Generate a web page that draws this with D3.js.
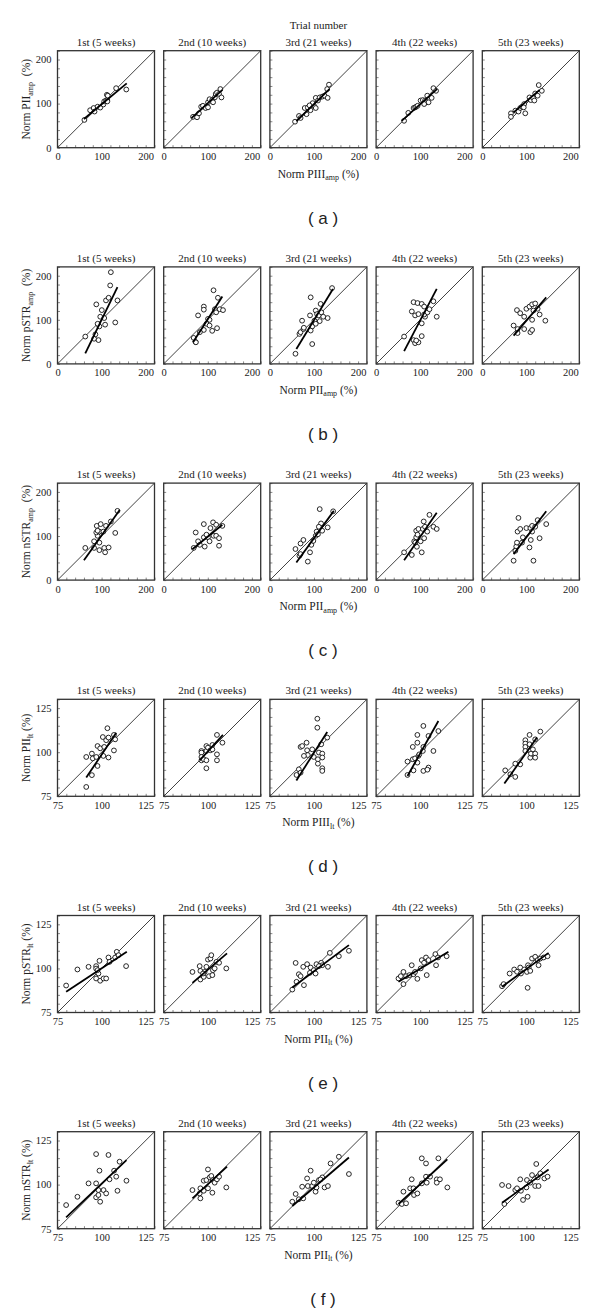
<!DOCTYPE html>
<html><head><meta charset="utf-8">
<script src="https://cdn.jsdelivr.net/npm/d3@7"></script>
<style>body{margin:0;background:#fff}svg{display:block}</style>
</head><body>
<script>
// ---------- DATA ----------
const trialTitles = ["1st (5 weeks)","2nd (10 weeks)","3rd (21 weeks)","4th (22 weeks)","5th (23 weeks)"];
const rowLetters = ["a","b","c","d","e","f"];
const ampTicks = [0,100,200];
const ltTicks = [75,100,125];
const ampDomain = [0,220];
const ltDomain = [75,130];

// row a: Norm PII_amp vs Norm PIII_amp
const rowA = [
 [[61,63],[74,85],[82,90],[84,82],[91,93],[97,91],[104,98],[106,105],[110,107],[113,108],[112,120],[114,118],[113,105],[133,135],[156,132]],
 [[66.5,70],[75.6,69],[80,78],[85,93],[89,95],[95,90],[100.5,91.5],[100.5,103],[104,110],[110,108],[116,114],[118,122],[121,125],[125.5,122],[128.5,133],[131,114],[112,103]],
 [[57,59],[66,72],[69.6,67.4],[83,76],[79,90],[86,91],[92,85],[100,95],[104,90],[104,113],[109,107],[113,114],[119,116],[124,118],[130,133],[134,143],[131,113],[97,101],[90,96]],
 [[63.5,61],[73,79],[85,90],[88.5,91.5],[91,93],[94,95],[101,107],[106,108],[111,107],[115,103],[119,103],[116,118],[126,113],[130,135],[136,129],[109,99]],
 [[65,78],[65,70],[75,84],[82,82],[86,90],[90,93],[95,99],[94,91.5],[97.5,78],[107,114],[110,108],[115,113],[118,107],[120,123],[125.5,118],[128,142],[135,129]]
];
const fitA = [[60,65,157,146],[63,67,133,131],[60,60,135,133],[58,61,138,133],[71,80,130,131]];

// row b: Norm pSTR_amp vs Norm PII_amp
const rowB = [
 [[63,62],[83,57],[86,67],[93,54],[88,135],[97,107],[95,85],[91,91],[100.5,122],[106,104],[108,89],[110,144],[116,150],[119.5,178],[121,208],[131,94],[136,144]],
 [[68,59],[72,50],[73,49],[78,110],[91,130],[91,123],[91,77],[97,91],[100.5,102],[104,100],[104,87],[110,75],[113,167],[116,124],[119,117],[121,81],[123,150],[127,124],[134.5,122],[82,72]],
 [[58,23],[67,68],[69.5,72],[76,79],[73,98],[77,82],[91,110],[92.5,151],[96,45],[96,85],[92.5,75.6],[104,121],[101,98],[107,113],[111,110],[113,97],[115,136],[116.5,117],[121,107],[131,104],[141,172],[104,91]],
 [[63.5,62],[81,119],[85,140],[94,138],[88.5,110],[96,113],[103.5,136],[109,130],[111,107],[109,112],[116.5,117],[121,124],[130,142],[137.5,107],[103.5,92],[85,54],[88.5,47],[96,49],[103.5,63],[91,53]],
 [[71,87],[78.6,122],[86,115],[95,107],[95,79],[80,79],[80,70],[100,125],[107,130],[113,135],[120,137],[125.5,125],[130,112],[143,98],[113,100],[109,72],[113,77],[116,121]]
];
const fitB = [[63,24,136,174],[66.5,49,133,153],[60,34,143,170],[63.5,29,137.5,170],[71,64,145,151]];

// row c: Norm nSTR_amp vs Norm PII_amp
const rowC = [
 [[63,73],[83,88],[83,73],[89,123],[91,100.5],[88,108],[95,110],[95,85],[95,68],[98,127],[104,110],[106,73],[108,63],[110,123],[116,74],[121,133],[131,107],[136,157],[91,112]],
 [[68,73],[72.6,108],[78,88],[82,80],[91,127],[91,97],[93,76],[100.5,97],[104,88],[106,118],[112,131],[113,100.5],[119,125.5],[119,100.5],[125.5,95],[125.5,78],[133,123],[97,103]],
 [[58,70.5],[67,55],[69.5,83],[76,91],[69.5,59],[86,42],[91,63],[94,80],[98.5,89],[104,100.5],[106,110],[109,104],[113,161],[116,128.5],[118.6,112],[131,119.5],[143.5,156],[111,121]],
 [[63.5,63],[81,57],[86.5,88],[91,112],[92.5,75.6],[91,97],[96,116],[101,88],[103.5,63],[106,116],[108,133],[109,95],[111,121],[116,110],[121,148],[130,121],[137.5,116],[94,103],[89,85]],
 [[71,44],[77,76],[78.6,85],[80,110],[82,141],[86,116],[90,85],[92,97],[100,118],[107,74],[109,118],[110,91],[113,123],[113,110],[116,44],[120,121],[125.5,136],[130,95],[145,127],[75,66.5]]
];
const fitC = [[60,45,141,159],[65,70,133,125.5],[60,40,145,157],[63.5,45,137.5,153],[71,59,145,156]];

// row d: Norm PII_lt vs Norm PIII_lt
const rowD = [
 [[91.3,80.3],[94.5,87],[91.3,97.3],[94.5,99.2],[95,96.5],[97,97.3],[97.7,92.2],[97.7,103.5],[99.2,102.2],[100.7,108.6],[101,97.9],[101.5,103],[102.6,106.8],[103.3,113.6],[103.9,108.3],[103.9,97],[107,109.8],[107,101],[107.7,107.3]],
 [[96.4,100.7],[96.4,99.8],[96.4,97.3],[96.4,95.4],[97.7,96],[99.2,100.7],[99.2,103.5],[99.2,95.4],[99.2,90.9],[100.1,102.6],[101.5,101.1],[102.6,104.1],[102.6,101.6],[105.2,109.8],[105.2,98.8],[105.2,95.4],[108.3,105.4]],
 [[90.1,87.1],[91.4,90.3],[92.4,103],[92.4,88.4],[93.3,103.5],[95.8,105.4],[96.1,101.1],[96.5,98.4],[99,101.6],[99.9,97.3],[101.9,113.9],[101.9,119],[102.2,96],[102.2,93.5],[102.8,99.8],[104.1,104.5],[104.7,99.2],[104.7,97],[104.7,90.9],[104.7,89.4],[107.5,108.3],[94.3,97.9]],
 [[92.8,87.1],[92.8,94.7],[95.8,96],[95.8,103],[96.2,89.7],[97.1,96.5],[98.4,94.1],[98.4,109.8],[98.4,105.4],[99,97.9],[99.5,98.8],[101.5,100.7],[101.8,114.9],[101.8,103],[101.8,89.4],[104.7,109.2],[104.7,91.3],[104.1,90.1],[107.5,100.7],[110.3,112]],
 [[88,89.7],[90.9,87.5],[93.7,86],[93.7,93.5],[96.5,93.1],[99.4,106.8],[99.4,104.9],[99.4,103],[99.4,100.7],[101.8,109.8],[101.8,104.5],[102.2,100.7],[102.2,96.9],[102.6,99.2],[105,107.3],[105,99.2],[105,96.9],[107.9,111.7],[103.7,101.6]]
];
const fitD = [[91.3,85.6,108.3,111],[95.4,95.4,108.6,109.8],[90,84,107.5,111.5],[92.8,86.5,110.3,117.7],[87.5,82.2,106,108.3]];

// row e: Norm pSTR_lt vs Norm PII_lt
const rowE = [
 [[79.9,90.3],[86.3,99.4],[92.6,100.9],[96.9,101.3],[96.9,99.9],[96.9,94.3],[98.2,97.1],[98.8,104.3],[99.2,93],[101.1,94.3],[102.6,94.3],[103.9,106.2],[104.5,103.7],[107.7,106.2],[108.6,109.4],[109.6,107.5],[113.9,101.3],[97.7,99]],
 [[91.3,98],[95.4,101.3],[95.8,98.6],[95.8,93.7],[97.7,95.2],[98.2,98],[99.2,100.9],[100.1,105],[100.7,95.6],[101.5,105.6],[102,107.5],[102.6,96.2],[102.9,99],[103.9,100],[104.9,103.7],[106.4,103.2],[110.5,100],[97.3,97.1]],
 [[89.6,103.1],[87.7,88],[91.4,96.7],[90.1,92.4],[92.4,95.6],[93.9,100.9],[94.3,90.5],[96.1,102.4],[97.7,97.5],[98.1,100.5],[99.9,99],[100.9,97.1],[101.4,102.4],[104.1,103.2],[104.7,101.8],[107.9,100.9],[109,108.8],[114.1,106.9],[119.8,110],[102.8,101.3]],
 [[87.7,94.3],[89,95.6],[90.5,98],[90.5,91.1],[92,95.6],[93.9,96.2],[95.2,101.8],[96.2,96.7],[97.1,98],[98.4,94.1],[100.3,100],[100.9,104.7],[102.2,103.2],[103.3,106.2],[103.7,96.2],[104.7,104.7],[108.6,108.1],[109,101.8],[110.1,106.2],[115,106.9]],
 [[86.2,89.9],[87.1,91.1],[90.5,97.1],[93.1,99.4],[94.7,98.1],[96.5,100.5],[96.9,97.1],[98.8,99.4],[100.9,101.8],[100.3,98],[100.7,89],[101.3,100.5],[103.2,105.6],[105,106.6],[106.4,104.7],[106.9,101.8],[107.9,105.6],[109.8,106.2],[112,106.9],[102.2,98.6]]
];
const fitE = [[79.9,86.7,114.3,109.4],[91.3,91.8,110.9,108.5],[87.7,89.2,119.8,113.2],[87.7,92.4,116,109.4],[86.2,89.6,112.6,108.8]];

// row f: Norm nSTR_lt vs Norm PII_lt
const rowF = [
 [[79.9,88.4],[86.3,93.1],[92.6,100.7],[96.9,117.3],[96.9,100.7],[96.9,92.8],[98.2,94.1],[98.8,107.9],[99.2,90.3],[101.1,96.9],[102.6,95],[103.9,116.8],[104.5,103],[107.1,107.9],[108.3,104.5],[109,96.5],[110.2,113],[114.1,102.2],[98.2,96.9]],
 [[91.3,96.9],[95.4,95],[95.8,97.9],[95.8,92.2],[97.7,102.2],[97.7,96.5],[99.2,102.6],[100.1,108.6],[100.1,97.9],[101.1,104.1],[102,104.9],[102.6,95.4],[102.9,102.6],[103.9,101.1],[105.2,103],[106.4,104.5],[110.5,98.4]],
 [[87.7,90.3],[89.6,94.7],[91.4,91.7],[93.3,98.8],[93.9,92.2],[96.1,103.5],[98.1,107.9],[96.5,99.2],[99,99.2],[99.9,101.1],[100.9,96],[101.4,98.4],[102.8,102.6],[104.7,104.1],[106,98.4],[107.9,99.2],[109.4,112],[114.1,115.8],[119.8,106],[103.7,102.9]],
 [[87.7,89.7],[89.6,89],[92,89.4],[90.5,96],[94.3,97.9],[95.2,103],[96.2,97.9],[96.5,94.1],[98.4,95],[100.9,100.7],[100.9,114.9],[103.3,112],[103.3,104.5],[103.7,101.1],[105.6,104.5],[109.4,103],[109.4,101.1],[110.3,114.9],[111.2,103],[115.4,98.4]],
 [[86.2,99.8],[87.5,89],[89.9,99.2],[93.7,96.9],[94.7,97.9],[96.5,103],[96.9,96.5],[98.1,91.3],[100,98.4],[100.3,102.6],[100.7,93.1],[102.2,101.1],[103.2,105.4],[105,99.2],[105.6,111.7],[106.4,104.1],[106.9,99.2],[107.9,106.4],[110.2,103.5],[112,104.5]]
];
const fitF = [[79.9,81.4,114.1,113.9],[91.3,92.2,110.9,110.2],[87.7,87.9,119.8,115.4],[87.7,89,115.4,114.3],[86.2,89.7,112.6,108.6]];

const yLabels = [["PII","amp"],["pSTR","amp"],["nSTR","amp"],["PII","lt"],["pSTR","lt"],["nSTR","lt"]];
const xLabels = [["PIII","amp"],["PII","amp"],["PII","amp"],["PIII","lt"],["PII","lt"],["PII","lt"]];

// ---------- DRAW ----------
const W=600,H=1314;
const svg=d3.select("body").append("svg").attr("width",W).attr("height",H);
const serif="'Liberation Serif','Times New Roman',serif";
const sans="'Liberation Sans',Arial,sans-serif";
const size=97, x0=57.5, dx=106.2, y0=50.7, dy=216.2;

const rows=[rowA,rowB,rowC,rowD,rowE,rowF];
const fits=[fitA,fitB,fitC,fitD,fitE,fitF];

svg.append("text").attr("x",x0+2*dx+size/2).attr("y",29).attr("text-anchor","middle")
  .attr("font-family",serif).attr("font-size",11).attr("fill","#222").text("Trial number");

rows.forEach((panels,r)=>{
  const amp = r<3;
  const dom = amp?ampDomain:ltDomain;
  const ticks = amp?ampTicks:ltTicks;
  const minor = amp?d3.range(0,221,20):d3.range(75,131,5);
  const top = y0 + r*dy;
  panels.forEach((pts,c)=>{
    const left = x0 + c*dx;
    const xs=d3.scaleLinear().domain(dom).range([left,left+size]);
    const ys=d3.scaleLinear().domain(dom).range([top+size,top]);
    const g=svg.append("g");
    // title
    g.append("text").attr("x",left+size/2).attr("y",top-5).attr("text-anchor","middle")
      .attr("font-family",serif).attr("font-size",11).attr("fill","#222").text(trialTitles[c]);
    // minor ticks (inward)
    const xa=d3.axisBottom(xs).tickValues(minor).tickSize(-2.5).tickFormat("");
    const ya=d3.axisLeft(ys).tickValues(minor).tickSize(-2.5).tickFormat("");
    g.append("g").attr("transform",`translate(0,${top+size})`).call(xa)
      .call(s=>{s.select(".domain").remove();s.selectAll("line").attr("stroke","#555").attr("stroke-width",0.7);});
    g.append("g").attr("transform",`translate(${left},0)`).call(ya)
      .call(s=>{s.select(".domain").remove();s.selectAll("line").attr("stroke","#555").attr("stroke-width",0.7);});
    // tick labels
    const xl=d3.axisBottom(xs).tickValues(ticks).tickSize(0).tickPadding(5).tickFormat(d3.format("d"));
    g.append("g").attr("transform",`translate(0,${top+size})`).call(xl)
      .call(s=>{s.select(".domain").remove();s.selectAll("text").attr("font-family",serif).attr("font-size",10.5).attr("fill","#222");});
    if(c===0){
      const yl=d3.axisLeft(ys).tickValues(ticks).tickSize(0).tickPadding(6).tickFormat(d3.format("d"));
      g.append("g").attr("transform",`translate(${left},0)`).call(yl)
        .call(s=>{s.select(".domain").remove();s.selectAll("text").attr("font-family",serif).attr("font-size",10.5).attr("fill","#222");});
    }
    // identity line
    g.append("line").attr("x1",xs(dom[0])).attr("y1",ys(dom[0])).attr("x2",xs(dom[1])).attr("y2",ys(dom[1]))
      .attr("stroke","#111").attr("stroke-width",0.8);
    // points
    g.selectAll("circle").data(pts).join("circle")
      .attr("cx",d=>xs(d[0])).attr("cy",d=>ys(d[1])).attr("r",2.4)
      .attr("fill","#fff").attr("stroke","#111").attr("stroke-width",0.9);
    // fit line
    const f=fits[r][c];
    g.append("line").attr("x1",xs(f[0])).attr("y1",ys(f[1])).attr("x2",xs(f[2])).attr("y2",ys(f[3]))
      .attr("stroke","#000").attr("stroke-width",1.8);
    // frame
    g.append("rect").attr("x",left).attr("y",top).attr("width",size).attr("height",size)
      .attr("fill","none").attr("stroke","#333").attr("stroke-width",1.3);
  });
  // y axis label
  const yc = top+size/2;
  const yt = svg.append("text").attr("transform",`translate(30,${yc}) rotate(-90)`).attr("text-anchor","middle")
    .attr("font-family",serif).attr("font-size",11.5).attr("fill","#222");
  yt.append("tspan").text("Norm "+yLabels[r][0]);
  yt.append("tspan").attr("font-size",8).attr("dy",2.5).text(yLabels[r][1]);
  yt.append("tspan").attr("dy",-2.5).text(amp?"  (%)":" (%)").attr("xml:space","preserve");
  // x axis label
  const xt = svg.append("text").attr("x",x0+2*dx+size/2).attr("y",top+size+30).attr("text-anchor","middle")
    .attr("font-family",serif).attr("font-size",11.5).attr("fill","#222");
  xt.append("tspan").text("Norm "+xLabels[r][0]);
  xt.append("tspan").attr("font-size",8).attr("dy",2.5).text(xLabels[r][1]);
  xt.append("tspan").attr("dy",-2.5).text("\u00a0(%)");
  // panel letter
  svg.append("text").attr("x",323).attr("y",top+size+76).attr("text-anchor","middle")
    .attr("font-family",sans).attr("font-size",17).attr("fill","#222")
    .text("( "+rowLetters[r]+" )").attr("xml:space","preserve");
});
</script>
</body></html>
